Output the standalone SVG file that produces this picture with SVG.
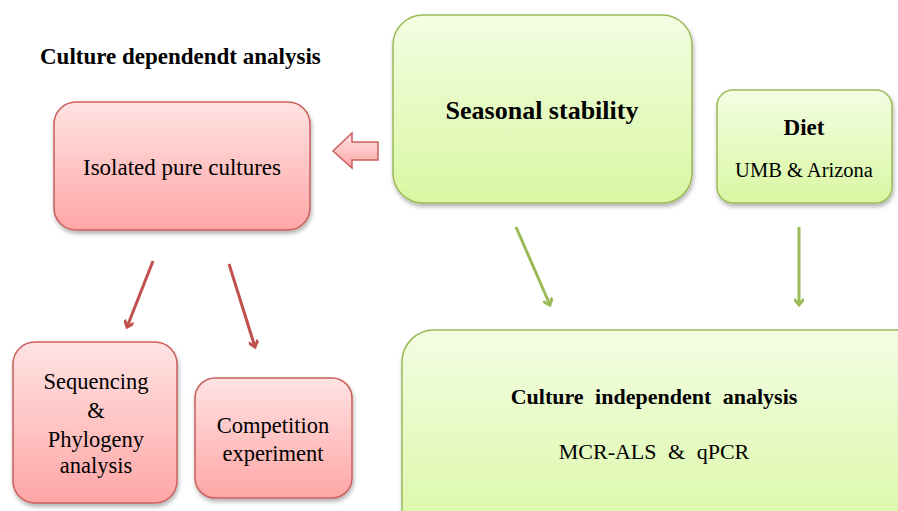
<svg xmlns="http://www.w3.org/2000/svg" width="898" height="511" viewBox="0 0 898 511">
<defs>
<linearGradient id="gr" x1="0" y1="0" x2="0" y2="1"><stop offset="0" stop-color="#ffe3e3"/><stop offset="1" stop-color="#ffa6a6"/></linearGradient>
<linearGradient id="gg" x1="0" y1="0" x2="0" y2="1"><stop offset="0" stop-color="#f3fde3"/><stop offset="1" stop-color="#d9f7a2"/></linearGradient>
<filter id="sh" x="-10%" y="-10%" width="120%" height="125%"><feDropShadow dx="1" dy="3" stdDeviation="2" flood-color="#000" flood-opacity="0.3"/></filter>
<marker id="ar" markerWidth="10" markerHeight="10" refX="7" refY="5" orient="auto" markerUnits="userSpaceOnUse"><path d="M1,0 L7,5 L1,10" fill="none" stroke="#c0504d" stroke-width="3"/></marker>
<marker id="ag" markerWidth="10" markerHeight="10" refX="7" refY="5" orient="auto" markerUnits="userSpaceOnUse"><path d="M1,0 L7,5 L1,10" fill="none" stroke="#9bbb59" stroke-width="3"/></marker>
<style>
.red{fill:url(#gr);stroke:#c9605d;stroke-width:1.5;filter:url(#sh)}
.grn{fill:url(#gg);stroke:#9bbb59;stroke-width:1.5;filter:url(#sh)}
.lr{stroke:#c0504d;stroke-width:3;fill:none;marker-end:url(#ar)}
.lg{stroke:#9bbb59;stroke-width:3;fill:none;marker-end:url(#ag)}
</style>
</defs>
<rect width="898" height="511" fill="#fff"/>
<g font-family="Liberation Serif" fill="#000" text-anchor="middle">
<text x="40" y="64" font-weight="bold" font-size="23" text-anchor="start">Culture dependendt analysis</text>
<g id="isolated"><rect class="red" x="54" y="102" width="256" height="128" rx="22"/><text x="182" y="175" font-size="23">Isolated pure cultures</text></g>
<g id="seasonal"><rect class="grn" x="393" y="15" width="299" height="188" rx="30"/><text x="542" y="119" font-weight="bold" font-size="26">Seasonal stability</text></g>
<g id="diet"><rect class="grn" x="717" y="90" width="175" height="113" rx="16"/><text x="804" y="135" font-weight="bold" font-size="23">Diet</text><text x="804" y="177" font-size="20.5">UMB &amp; Arizona</text></g>
<g id="sequencing"><rect class="red" x="13" y="342" width="164" height="161" rx="22"/><text font-size="22.5"><tspan x="96" y="389">Sequencing</tspan><tspan x="96" y="418">&amp;</tspan><tspan x="96" y="447">Phylogeny</tspan><tspan x="96" y="473">analysis</tspan></text></g>
<g id="competition"><rect class="red" x="195" y="378" width="157" height="120" rx="20"/><text font-size="22.5"><tspan x="273" y="433">Competition</tspan><tspan x="273" y="461">experiment</tspan></text></g>
<g id="independent"><rect class="grn" x="402" y="330" width="530" height="220" rx="32"/><text x="654" y="404" font-weight="bold" font-size="22" word-spacing="6">Culture independent analysis</text><text x="654" y="459" font-size="22" word-spacing="6">MCR-ALS &amp; qPCR</text></g>
</g>
<g id="connectors">
<path d="M378,142 L352,142 L352,133 L333,151 L352,168 L352,160 L378,160 Z" fill="url(#gr)" stroke="#c9605d" stroke-width="1.5"/>
<line class="lr" x1="153" y1="261" x2="127" y2="327"/>
<line class="lr" x1="229" y1="264" x2="255" y2="347"/>
<line class="lg" x1="516" y1="227" x2="550" y2="305"/>
<line class="lg" x1="799" y1="227" x2="799" y2="305"/>
</g>
</svg>
